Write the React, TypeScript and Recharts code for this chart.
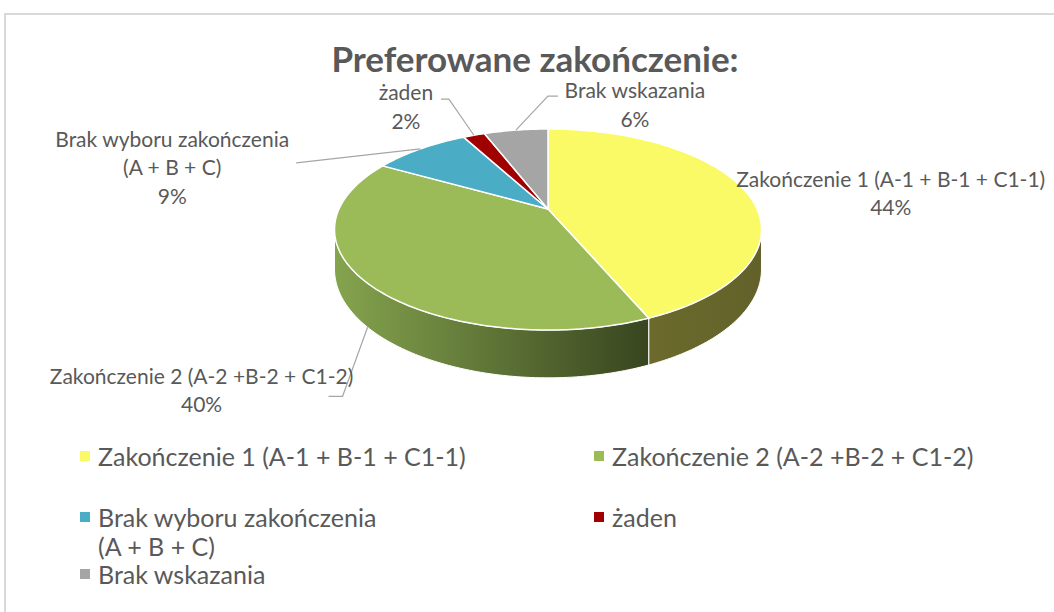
import React from 'react';
import { PieChart, Pie, Legend } from 'recharts';

// ---------- data ----------
const CATEGORIES = [
  'Zakończenie 1 (A-1 + B-1 + C1-1)',
  'Zakończenie 2 (A-2 +B-2 + C1-2)',
  'Brak wyboru zakończenia (A + B + C)',
  'żaden',
  'Brak wskazania',
];
const VALUES = [43.6, 39.6, 8.9, 2.0, 5.9];
const LABEL_LINES = [
  ['Zakończenie 1 (A-1 + B-1 + C1-1)'],
  ['Zakończenie 2 (A-2 +B-2 + C1-2)'],
  ['Brak wyboru zakończenia', '(A + B + C)'],
  ['żaden'],
  ['Brak wskazania'],
];
const LEGEND_LINES = [
  ['Zakończenie 1 (A-1 + B-1 + C1-1)'],
  ['Zakończenie 2 (A-2 +B-2 + C1-2)'],
  ['Brak wyboru zakończenia', '(A + B + C)'],
  ['żaden'],
  ['Brak wskazania'],
];
const TITLE = 'Preferowane zakończenie:';

// ---------- style ----------
const TOP_COLORS = ['#FAFA66', '#9BBB59', '#4BACC6', '#A00000', '#A5A5A5'];
const SIDE_FROM = ['#6C6B2C', '#85A44E', '#2F7F94', '#6E0000', '#757575'];
const SIDE_TO = ['#62612A', '#38451F', '#205A69', '#500000', '#555555'];

const data = CATEGORIES.map((name, i) => ({ name, value: VALUES[i] }));

const W = 1054;
const H = 612;
const CX = 548;
const CY = 209;
const R = 209;
const TILT = 0.461;
const PERSP = 0.204;
const DEPTH = 0.182;
const FONT = 'Lato, "Open Sans", sans-serif';
const TEXT = '#595959';
const LINE = '#A6A6A6';
const LABEL_SIZE = 21;
const LABEL_LH = 28.5;
const LEGEND_SIZE = 25;
const LEGEND_LH = 29;

// label layout relative to the projected slice anchor
const LABEL_LAYOUT = [
  { dx: 146, dy: 2, bottom: false, leader: [] as number[][] },
  { dx: -166, dy: 62, bottom: true, leader: [[-25, 69], [-39, 69]] },
  { dx: -248, dy: 18, bottom: false, leader: [[-124, 14]] },
  { dx: -68, dy: -29, bottom: false, leader: [[-25, -36], [-33, -36]] },
  { dx: 119, dy: -26, bottom: false, leader: [[32, -34], [42, -34]] },
];

const LEGEND_POS = [
  { x: 80, y: 456 },
  { x: 594, y: 456 },
  { x: 80, y: 517 },
  { x: 594, y: 517 },
  { x: 80, y: 574 },
];

function proj(cx: number, cy: number, r: number, deg: number) {
  const t = (deg * Math.PI) / 180;
  const u = Math.cos(t);
  const v = Math.sin(t);
  const d = 1 + PERSP * v;
  return { x: cx + (r * u) / d, y: cy - (r * TILT * v) / d, h: (r * DEPTH) / d };
}

function arcPts(cx: number, cy: number, r: number, a0: number, a1: number, down: boolean) {
  const n = Math.max(2, Math.ceil(Math.abs(a1 - a0)));
  const pts: number[][] = [];
  for (let k = 0; k <= n; k++) {
    const a = a0 + ((a1 - a0) * k) / n;
    const p = proj(cx, cy, r, a);
    pts.push([p.x, down ? p.y + p.h : p.y]);
  }
  return pts;
}

const toPath = (pts: number[][]) => pts.map((p, i) => `${i === 0 ? 'M' : 'L'}${p[0].toFixed(2)},${p[1].toFixed(2)}`).join(' ');

const VIS = (Math.asin(PERSP) * 180) / Math.PI;

const renderSlice = (props: any) => {
  const { cx, cy, outerRadius, startAngle, endAngle, index, percent } = props;
  const hi = Math.max(startAngle, endAngle);
  const lo = Math.min(startAngle, endAngle);
  const sides: React.ReactNode[] = [];
  [-720, -360, 0, 360].forEach((k) => {
    const a = Math.max(lo, 180 + VIS + k);
    const b = Math.min(hi, 360 - VIS + k);
    if (a < b) {
      const top = arcPts(cx, cy, outerRadius, a, b, false);
      const bot = arcPts(cx, cy, outerRadius, b, a, true);
      const gid = `side-${index}-${k}`;
      sides.push(
        <g key={gid}>
          <defs>
            <linearGradient id={gid} x1="0" y1="0" x2="1" y2="0">
              <stop offset="0%" stopColor={SIDE_FROM[index]} />
              <stop offset="100%" stopColor={SIDE_TO[index]} />
            </linearGradient>
          </defs>
          <path d={toPath([...top, ...bot]) + ' Z'} fill={`url(#${gid})`} stroke="#FFFFFF" strokeWidth={1} />
        </g>
      );
    }
  });
  const topPts = arcPts(cx, cy, outerRadius, startAngle, endAngle, false);
  const topPath = `M${cx},${cy} ` + toPath(topPts).replace(/^M/, 'L') + ' Z';

  const mid = (startAngle + endAngle) / 2;
  const m = proj(cx, cy, outerRadius, mid);
  const lay = LABEL_LAYOUT[index];
  const ax = m.x;
  const ay = lay.bottom ? m.y + m.h : m.y;
  const lines = [...LABEL_LINES[index], `${Math.round(percent * 100)}%`];
  const lx = ax + lay.dx;
  const ly0 = ay + lay.dy - ((lines.length - 1) * LABEL_LH) / 2;
  const leaderPts = lay.leader.length ? [[ax, ay], ...lay.leader.map((p) => [ax + p[0], ay + p[1]])] : [];

  return (
    <g key={`slice-${index}`}>
      {sides}
      <path d={topPath} fill={TOP_COLORS[index]} stroke="#FFFFFF" strokeWidth={1.5} strokeLinejoin="round" />
      {leaderPts.length > 0 && (
        <path d={toPath(leaderPts)} fill="none" stroke={LINE} strokeWidth={1.2} />
      )}
      {lines.map((t, i) => (
        <text
          key={i}
          x={lx}
          y={ly0 + i * LABEL_LH}
          textAnchor="middle"
          dominantBaseline="central"
          fontFamily={FONT}
          fontSize={LABEL_SIZE}
          fill={TEXT}
        >
          {t}
        </text>
      ))}
    </g>
  );
};

const renderLegend = () => (
  <div style={{ position: 'relative', width: W, height: 0 }}>
    {CATEGORIES.map((c, i) => {
      const p = LEGEND_POS[i];
      return (
        <div key={c}>
          <div
            style={{
              position: 'absolute',
              left: p.x,
              top: p.y - 5,
              width: 10,
              height: 10,
              background: TOP_COLORS[i],
            }}
          />
          {LEGEND_LINES[i].map((t, j) => (
            <div
              key={j}
              style={{
                position: 'absolute',
                left: p.x + 18,
                top: p.y - 12 + j * LEGEND_LH,
                height: 24,
                lineHeight: '24px',
                fontFamily: FONT,
                fontSize: LEGEND_SIZE,
                color: TEXT,
                whiteSpace: 'nowrap',
              }}
            >
              {t}
            </div>
          ))}
        </div>
      );
    })}
  </div>
);

export default function App() {
  return (
    <div style={{ position: 'absolute', left: 0, top: 0, width: W, height: H, overflow: 'hidden', background: '#FFFFFF' }}>
      <div
        style={{
          position: 'absolute',
          left: 4,
          top: 13,
          width: W + 50,
          height: H + 50,
          borderLeft: '2px solid #D9D9D9',
          borderTop: '2px solid #D9D9D9',
        }}
      />
      <div
        style={{
          position: 'absolute',
          left: 0,
          width: 1070,
          top: 37,
          height: 42,
          lineHeight: '42px',
          textAlign: 'center',
          fontFamily: FONT,
          fontWeight: 700,
          fontSize: 35,
          color: TEXT,
        }}
      >
        {TITLE}
      </div>
      <div style={{ position: 'absolute', left: 0, top: 0 }}>
        <PieChart width={W} height={H} margin={{ top: 0, right: 0, bottom: 0, left: 0 }}>
          <Pie
            data={data}
            dataKey="value"
            nameKey="name"
            cx={CX}
            cy={CY}
            outerRadius={R}
            startAngle={90}
            endAngle={-270}
            fill="none"
            stroke="none"
            isAnimationActive={false}
            label={renderSlice}
            labelLine={false}
          />
          <Legend
            content={renderLegend}
            wrapperStyle={{ left: 0, top: 0, width: W, height: 0, pointerEvents: 'none' }}
          />
        </PieChart>
      </div>
    </div>
  );
}
